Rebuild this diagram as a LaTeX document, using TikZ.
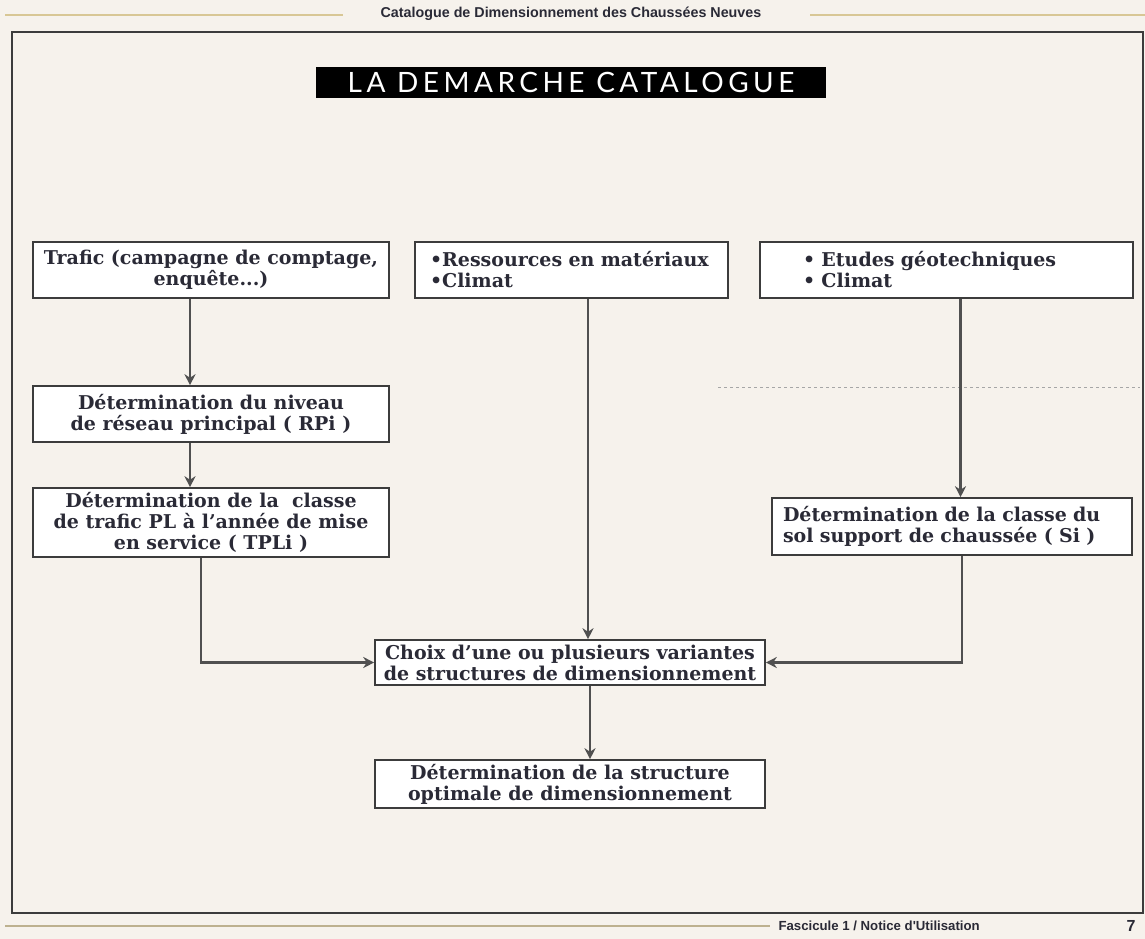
\documentclass[tikz,border=0pt]{standalone}
\usepackage{fontspec}
\setmainfont{DejaVu Serif}
\newfontfamily\titlefont[LetterSpace=16]{Lato}
\newfontfamily\headfont{Liberation Sans}
\usetikzlibrary{arrows.meta}
\definecolor{bg}{HTML}{F6F2EC}
\definecolor{ink}{HTML}{2A2A36}
\definecolor{edge}{HTML}{3C3C3C}
\definecolor{gold}{HTML}{D8C795}
\tikzset{
  box/.style={draw=edge, line width=1.6pt, fill=white, text=ink, font=\bfseries\fontsize{19}{21}\selectfont, inner sep=0pt},
  arr/.style={draw=edge!90, line width=2.6pt, -{Stealth[length=11pt,width=11pt]}},
}
\begin{document}
\begin{tikzpicture}[x=1pt,y=-1pt]
\useasboundingbox[fill=bg] (0,0) rectangle (1145,939);
% header and footer
\draw[gold, line width=1.5pt] (5,15) -- (343,15);
\draw[gold, line width=1.5pt] (810,15) -- (1145,15);
\node[font=\headfont\bfseries\fontsize{14.3}{16}\selectfont, text=ink] (head) at (571,14) {Catalogue de Dimensionnement des Chaussées Neuves};
\draw[gold!70!gray, line width=1.2pt] (5,926) -- (770,926);
\node[font=\headfont\bfseries\fontsize{13.2}{15}\selectfont, text=ink, anchor=west] (foot) at (775,926) {Fascicule 1 / Notice d'Utilisation};
\node[font=\headfont\bfseries\fontsize{16}{18}\selectfont, text=ink] (page) at (1131,926) {7};
% frame
\draw[edge, line width=1.6pt] (12,32) rectangle (1143,913);
\draw[dashed, gray!70, line width=1pt] (718,387) -- (1140,387);
% title
\node[fill=black, text=white, minimum width=510pt, minimum height=31pt, inner sep=0pt, font=\titlefont\fontsize{28}{30}\selectfont] (title) at (571,82.5) {LA DEMARCHE CATALOGUE};
% boxes
\node[box, minimum width=356pt, minimum height=56pt, align=center] (trafic) at (211,270) {Trafic (campagne de comptage,\\ enquête...)};
\node[box, minimum width=313pt, minimum height=56pt, text width=283pt, inner xsep=15pt, align=left] (ress) at (571.5,270) {•Ressources en matériaux\\ •Climat};
\node[box, minimum width=373pt, minimum height=56pt, text width=287pt, inner xsep=43pt, align=left] (etudes) at (946.5,270) {• Etudes géotechniques\\ • Climat};
\node[box, minimum width=356pt, minimum height=56pt, align=center] (rpi) at (211,414) {Détermination du niveau\\ de réseau principal ( RPi )};
\node[box, minimum width=356pt, minimum height=69pt, align=center] (tpli) at (211,522.5) {Détermination de la~ classe\\ de trafic PL à l'année de mise\\ en service ( TPLi )};
\node[box, minimum width=360pt, minimum height=57pt, text width=338pt, inner xsep=11pt, align=left] (si) at (952,526.5) {Détermination de la classe du\\ sol support de chaussée ( Si )};
\node[box, minimum width=390pt, minimum height=45pt, align=center] (choix) at (570,662.5) {Choix d'une ou plusieurs variantes\\ de structures de dimensionnement};
\node[box, minimum width=390pt, minimum height=48pt, align=center] (opt) at (570,784) {Détermination de la structure\\ optimale de dimensionnement};
% connectors
\draw[arr] ([xshift=-21pt]trafic.south) -- ([xshift=-21pt]rpi.north);
\draw[arr] ([xshift=-21pt]rpi.south) -- ([xshift=-21pt]tpli.north);
\draw[arr] ([xshift=-10pt]tpli.south) |- (choix.west);
\draw[arr] ([xshift=16.5pt]ress.south) -- ([xshift=16.5pt]ress.south |- choix.north);
\draw[arr] ([xshift=14pt]etudes.south) -- ([xshift=14pt]etudes.south |- si.north);
\draw[arr] ([xshift=10pt]si.south) |- (choix.east);
\draw[arr] ([xshift=20pt]choix.south) -- ([xshift=20pt]opt.north);
\end{tikzpicture}
\end{document}
